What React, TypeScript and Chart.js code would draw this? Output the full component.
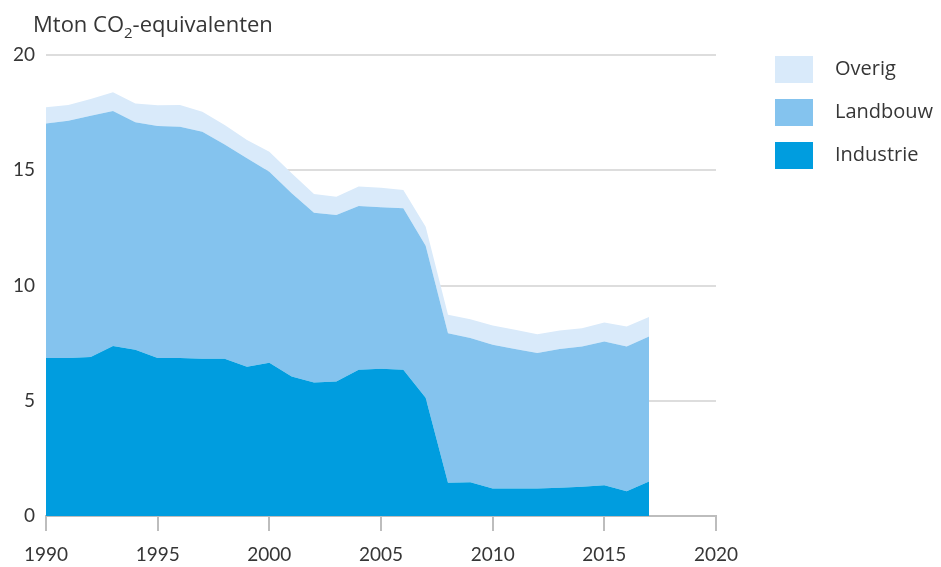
import { useEffect, useRef } from "react";
import { Chart, registerables } from "chart.js";

Chart.register(...registerables);

const years = [
  1990, 1991, 1992, 1993, 1994, 1995, 1996, 1997, 1998, 1999,
  2000, 2001, 2002, 2003, 2004, 2005, 2006, 2007, 2008, 2009,
  2010, 2011, 2012, 2013, 2014, 2015, 2016, 2017,
];

const industrie = [
  6.86, 6.86, 6.9, 7.38, 7.21, 6.86, 6.86, 6.82, 6.82, 6.48,
  6.65, 6.05, 5.79, 5.83, 6.35, 6.39, 6.35, 5.13, 1.44, 1.46,
  1.19, 1.19, 1.19, 1.23, 1.27, 1.33, 1.07, 1.5,
];

const landbouw = [
  10.17, 10.29, 10.46, 10.19, 9.87, 10.06, 10.03, 9.85, 9.3, 9.04,
  8.29, 7.95, 7.37, 7.23, 7.1, 7.0, 7.0, 6.59, 6.49, 6.26,
  6.24, 6.05, 5.88, 6.02, 6.08, 6.24, 6.28, 6.29,
];

const overig = [
  0.7, 0.68, 0.73, 0.81, 0.82, 0.9, 0.94, 0.87, 0.84, 0.79,
  0.86, 0.87, 0.81, 0.79, 0.85, 0.85, 0.79, 0.83, 0.8, 0.82,
  0.83, 0.84, 0.82, 0.8, 0.8, 0.82, 0.87, 0.84,
];

const xTicks = [1990, 1995, 2000, 2005, 2010, 2015, 2020];
const yTicks = [0, 5, 10, 15, 20];

const FONT = "Lato, 'Open Sans', sans-serif";
const FONT2 = "'Open Sans', Lato, sans-serif";
const TEXT = "#363636";
const C_IND = "#009ddf";
const C_LAND = "#84c3ee";
const C_OV = "#d9eafa";

const toPoints = (vals: number[]) => vals.map((v, i) => ({ x: years[i], y: v }));

const overlayPlugin = {
  id: "overlay",
  afterDraw(chart: any) {
    const ctx = chart.ctx as CanvasRenderingContext2D;
    ctx.save();
    ctx.fillStyle = TEXT;
    ctx.textBaseline = "alphabetic";
    ctx.textAlign = "left";
    // title with subscript
    ctx.font = `22px ${FONT2}`;
    let x = 33;
    const base = 32;
    const p1 = "Mton CO";
    ctx.fillText(p1, x, base);
    x += ctx.measureText(p1).width;
    ctx.font = `15px ${FONT2}`;
    ctx.fillText("2", x, base + 6);
    x += ctx.measureText("2").width;
    ctx.font = `22px ${FONT2}`;
    ctx.fillText("-equivalenten", x, base);

    // legend
    const ds = chart.data.datasets.slice().reverse();
    ctx.font = `20px ${FONT2}`;
    ctx.textBaseline = "middle";
    ds.forEach((d: any, i: number) => {
      const top = 56 + i * 43;
      ctx.fillStyle = d.backgroundColor;
      ctx.fillRect(775, top, 38, 27);
      ctx.fillStyle = TEXT;
      ctx.fillText(d.label, 835, top + 13);
    });
    ctx.restore();
  },
};

export default function App() {
  const ref = useRef<HTMLCanvasElement | null>(null);

  useEffect(() => {
    if (!ref.current) return;
    const chart = new Chart(ref.current, {
      type: "line",
      data: {
        datasets: [
          {
            label: "Industrie",
            data: toPoints(industrie),
            backgroundColor: C_IND,
            borderWidth: 0,
            pointRadius: 0,
            fill: "origin",
            tension: 0,
          },
          {
            label: "Landbouw",
            data: toPoints(landbouw),
            backgroundColor: C_LAND,
            borderWidth: 0,
            pointRadius: 0,
            fill: "-1",
            tension: 0,
          },
          {
            label: "Overig",
            data: toPoints(overig),
            backgroundColor: C_OV,
            borderWidth: 0,
            pointRadius: 0,
            fill: "-1",
            tension: 0,
          },
        ],
      },
      options: {
        animation: false,
        responsive: true,
        maintainAspectRatio: false,
        layout: { padding: { top: 55, right: 225, left: 0, bottom: 0 } },
        plugins: {
          legend: { display: false },
          tooltip: { enabled: false },
        },
        scales: {
          x: {
            type: "linear",
            min: 1990,
            max: 2020,
            afterBuildTicks: (s: any) => {
              s.ticks = xTicks.map((v) => ({ value: v }));
            },
            afterFit: (s: any) => {
              s.height = 51;
            },
            grid: {
              drawOnChartArea: false,
              drawTicks: true,
              tickLength: 15,
              color: "#bdbdbd",
              lineWidth: 2,
            },
            border: { display: true, color: "#bdbdbd", width: 2 },
            ticks: {
              color: TEXT,
              font: { family: FONT, size: 19 },
              padding: 12,
              maxRotation: 0,
              callback: (v: any) => String(v),
            },
          },
          y: {
            stacked: true,
            min: 0,
            max: 20,
            afterBuildTicks: (s: any) => {
              s.ticks = yTicks.map((v) => ({ value: v }));
            },
            afterFit: (s: any) => {
              s.width = 46;
            },
            grid: {
              drawTicks: false,
              color: "#dddddd",
              lineWidth: 2,
            },
            border: { display: false },
            ticks: {
              color: TEXT,
              font: { family: FONT, size: 19 },
              padding: 11,
              callback: (v: any) => String(v),
            },
          },
        },
      },
      plugins: [overlayPlugin],
    });
    return () => chart.destroy();
  }, []);

  return (
    <div style={{ position: "absolute", left: 0, top: 0, width: 941, height: 567, background: "#fff" }}>
      <canvas ref={ref} />
    </div>
  );
}
